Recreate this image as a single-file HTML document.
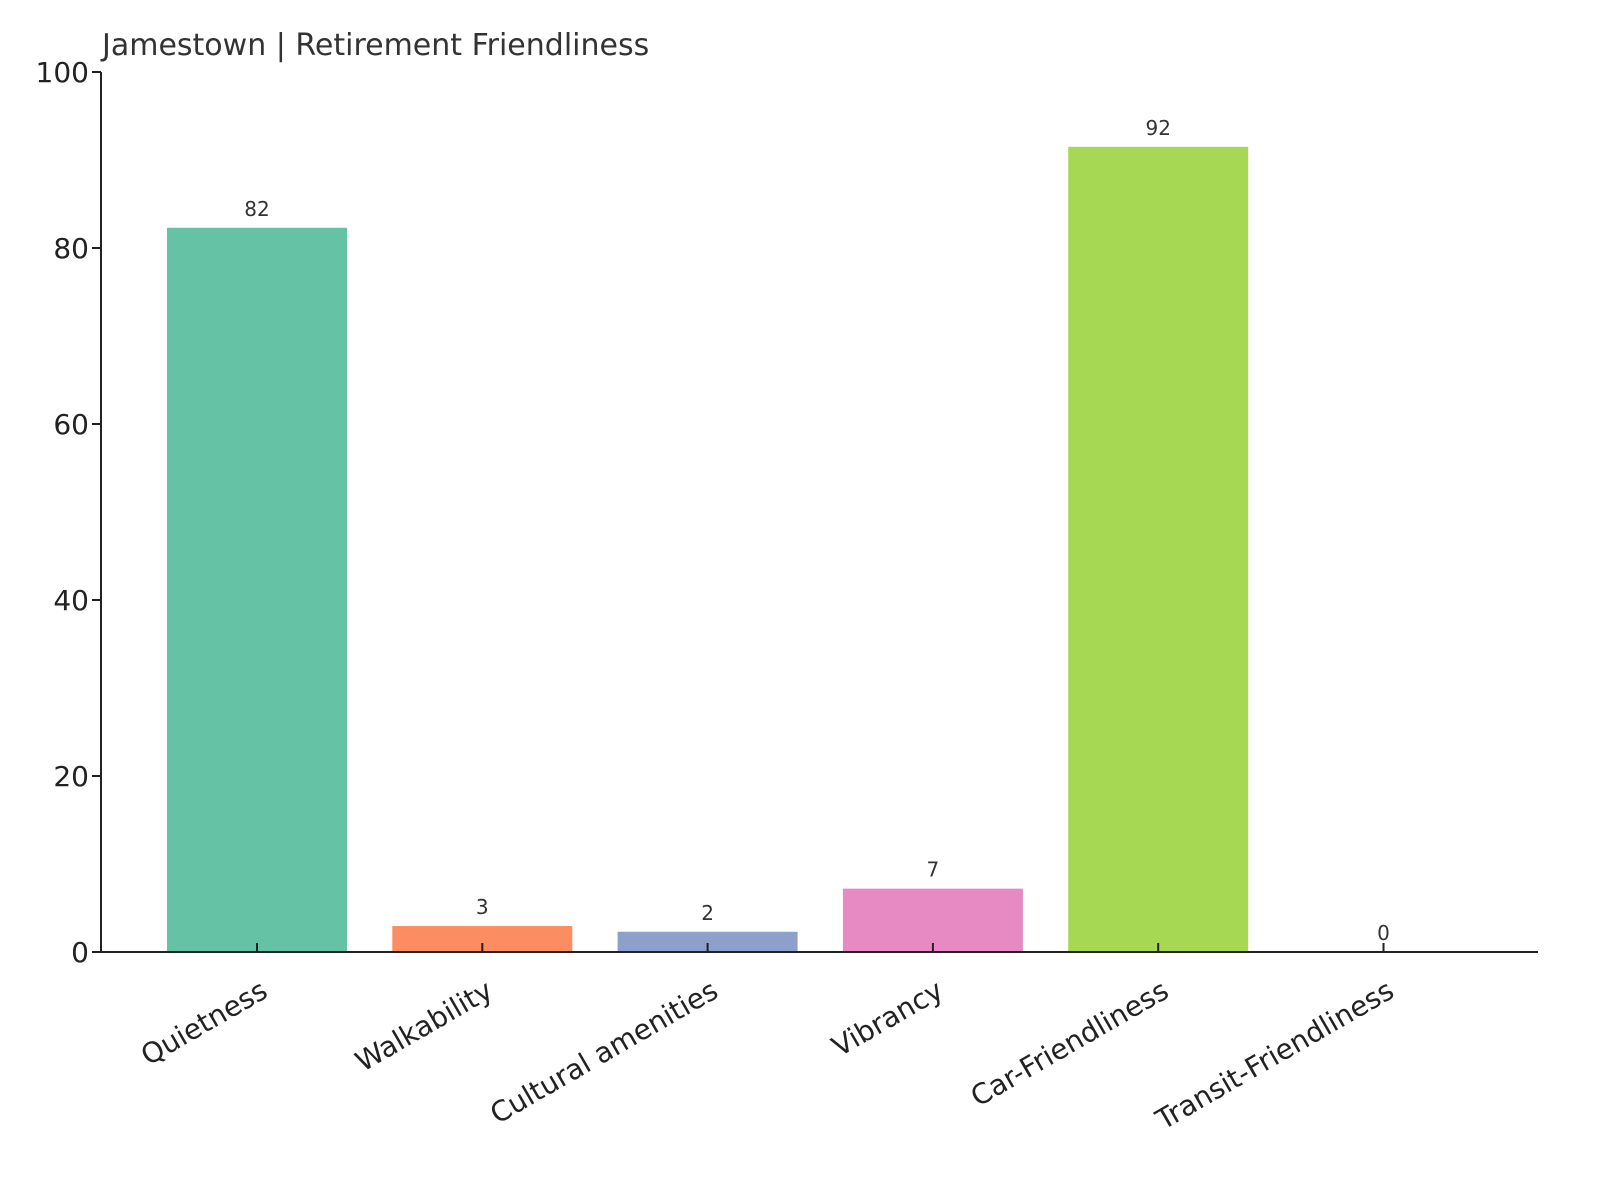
<!DOCTYPE html>
<html><head><meta charset="utf-8"><style>
html,body{margin:0;padding:0;background:#fff;}
svg{display:block;font-family:"DejaVu Sans","Liberation Sans",sans-serif;}
</style></head><body>
<svg id="chart" width="1600" height="1200" viewBox="0 0 1600 1200">
<text x="102" y="55" font-size="30" fill="#333">Jamestown | Retirement Friendliness</text>
<g id="bars"></g>
<g id="yaxis"></g>
<g id="xaxis"></g>
</svg>
<script>
const categories = ["Quietness","Walkability","Cultural amenities","Vibrancy","Car-Friendliness","Transit-Friendliness"];
const values = [82.3, 2.95, 2.3, 7.2, 91.5, 0];
const valueLabels = ["82","3","2","7","92","0"];
const colors = ["#66c2a5","#fc8d62","#8da0cb","#e78ac3","#a6d854","#ffd92f"];
const yTicks = [0,20,40,60,80,100];

const NS="http://www.w3.org/2000/svg";
const x0=101, x1=1538, yBase=952, yTop=72;
const y = v => yBase - (v/100)*(yBase-yTop);
const xc = i => 257 + i*225.3;
const bw = 180;
function mk(tag, attrs, parent, text){const e=document.createElementNS(NS,tag);for(const k in attrs)e.setAttribute(k,attrs[k]);if(text!==undefined)e.textContent=text;parent.appendChild(e);return e;}
const bars=document.getElementById('bars'), ya=document.getElementById('yaxis'), xa=document.getElementById('xaxis');
categories.forEach((c,i)=>{
  const r=mk('rect',{x:xc(i)-bw/2,y:y(values[i]),width:bw,height:yBase-y(values[i]),fill:colors[i]},bars);
  
  
  const t=mk('text',{x:xc(i),y:y(values[i])-12,'font-size':20,fill:'#333','text-anchor':'middle'},bars,valueLabels[i]);
  
  
  const tk=mk('line',{x1:xc(i),x2:xc(i),y1:yBase-9,y2:yBase,stroke:'#222','stroke-width':2},xa);
  
  
  const lx=xc(i)+2, ly=yBase+26;
  const l=mk('text',{x:lx,y:ly,'font-size':28,fill:'#222','text-anchor':'end','dominant-baseline':'hanging',transform:`rotate(-30 ${lx} ${ly})`},xa,c);
  
  
});
yTicks.forEach(v=>{
  const tk=mk('line',{x1:x0-9,x2:x0,y1:y(v),y2:y(v),stroke:'#222','stroke-width':2},ya);
  
  
  const t=mk('text',{x:x0-12,y:y(v)+10,'font-size':28,fill:'#222','text-anchor':'end'},ya,String(v));
  
  
});
const yl=mk('line',{x1:x0,x2:x0,y1:yTop,y2:yBase,stroke:'#222','stroke-width':2},ya);


const xl=mk('line',{x1:x0,x2:x1,y1:yBase,y2:yBase,stroke:'#222','stroke-width':2},xa);


</script>
</body></html>
